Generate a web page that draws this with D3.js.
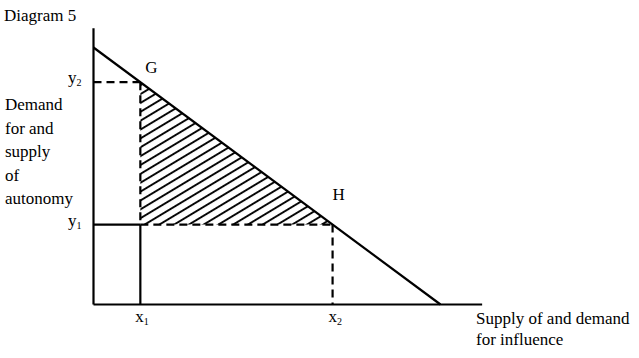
<!DOCTYPE html>
<html><head><meta charset="utf-8">
<script src="https://cdn.jsdelivr.net/npm/d3@7"></script>
<style>
html,body{margin:0;padding:0;background:#fff;}
text{font-family:"Liberation Serif","Times New Roman",serif;fill:#000;}
</style></head>
<body><svg id="c" width="639" height="358"></svg>
<script>
// Data (abstract units)
const demandLine = [{x:0,y:10},{x:10,y:0}];
const x1 = 1.35, x2 = 6.89;
const y2 = 8.65, y1 = 3.11;
const xMax = 11.2, yMax = 10.75;
const yLabelLines = ["Demand","for and","supply","of","autonomy"];
const xLabelLines = ["Supply of and demand","for influence"];

const svg = d3.select("#c");
const x = d3.scaleLinear().domain([0,10]).range([93.5,440.5]);
const y = d3.scaleLinear().domain([0,10]).range([304.5,47.5]);
const ink = "#000";

// hatch pattern
const defs = svg.append("defs");
const pat = defs.append("pattern").attr("id","hatch").attr("patternUnits","userSpaceOnUse")
  .attr("width",20).attr("height",7.6).attr("patternTransform","rotate(-31)");
pat.append("line").attr("x1",0).attr("y1",1).attr("x2",20).attr("y2",1)
  .attr("stroke",ink).attr("stroke-width",1.9);

// hatched triangle G - (x1,y1) - H
const tri = [[x1,y2],[x1,y1],[x2,y1]];
svg.append("path").attr("d", d3.line().x(d=>x(d[0])).y(d=>y(d[1]))(tri)+"Z")
  .attr("fill","url(#hatch)").attr("stroke","none");

// axes
svg.append("line").attr("x1",x(0)).attr("y1",y(0)).attr("x2",x(0)).attr("y2",y(yMax))
  .attr("stroke",ink).attr("stroke-width",2.2);
svg.append("line").attr("x1",x(0)).attr("y1",y(0)).attr("x2",x(xMax)).attr("y2",y(0))
  .attr("stroke",ink).attr("stroke-width",2.2);

// demand/supply line
svg.append("path").datum(demandLine)
  .attr("d", d3.line().x(d=>x(d.x)).y(d=>y(d.y)))
  .attr("stroke",ink).attr("stroke-width",2.2).attr("fill","none");

const dash = "8,5";
function seg(a,b,c,d,dashed){
  svg.append("line").attr("x1",x(a)).attr("y1",y(b)).attr("x2",x(c)).attr("y2",y(d))
    .attr("stroke",ink).attr("stroke-width",2.2).attr("stroke-dasharray",dashed?dash:null);
}
seg(0,y2,x1,y2,true);      // y2 dashed
seg(x1,y2,x1,y1,true);     // vertical dashed at x1
seg(0,y1,x1,y1,false);     // y1 solid
seg(x1,y1,x1,0,false);     // x1 solid down
seg(x1,y1,x2,y1,true);     // dashed to H
seg(x2,y1,x2,0,true);      // x2 dashed

// labels
const fs = 17;
svg.append("text").attr("x",4).attr("y",21).attr("font-size",fs).text("Diagram 5");
yLabelLines.forEach((t,i)=>svg.append("text").attr("x",5).attr("y",110+i*23.5).attr("font-size",fs).text(t));
xLabelLines.forEach((t,i)=>svg.append("text").attr("x",476).attr("y",324+i*21).attr("font-size",fs).text(t));
svg.append("text").attr("x",x(x1)+5).attr("y",y(y2)-9).attr("font-size",fs).text("G");
svg.append("text").attr("x",x(x2)).attr("y",y(y1)-25).attr("font-size",fs).text("H");

function sub(px,py,base,s){
  const t = svg.append("text").attr("x",px).attr("y",py).attr("font-size",fs);
  t.append("tspan").text(base);
  t.append("tspan").attr("font-size",10).attr("dy",3).text(s);
}
sub(68,y(y2)+1,"y","2");
sub(68,y(y1)+1,"y","1");
sub(x(x1)-5,322,"x","1");
sub(x(x2)-4,322,"x","2");
</script></body></html>
